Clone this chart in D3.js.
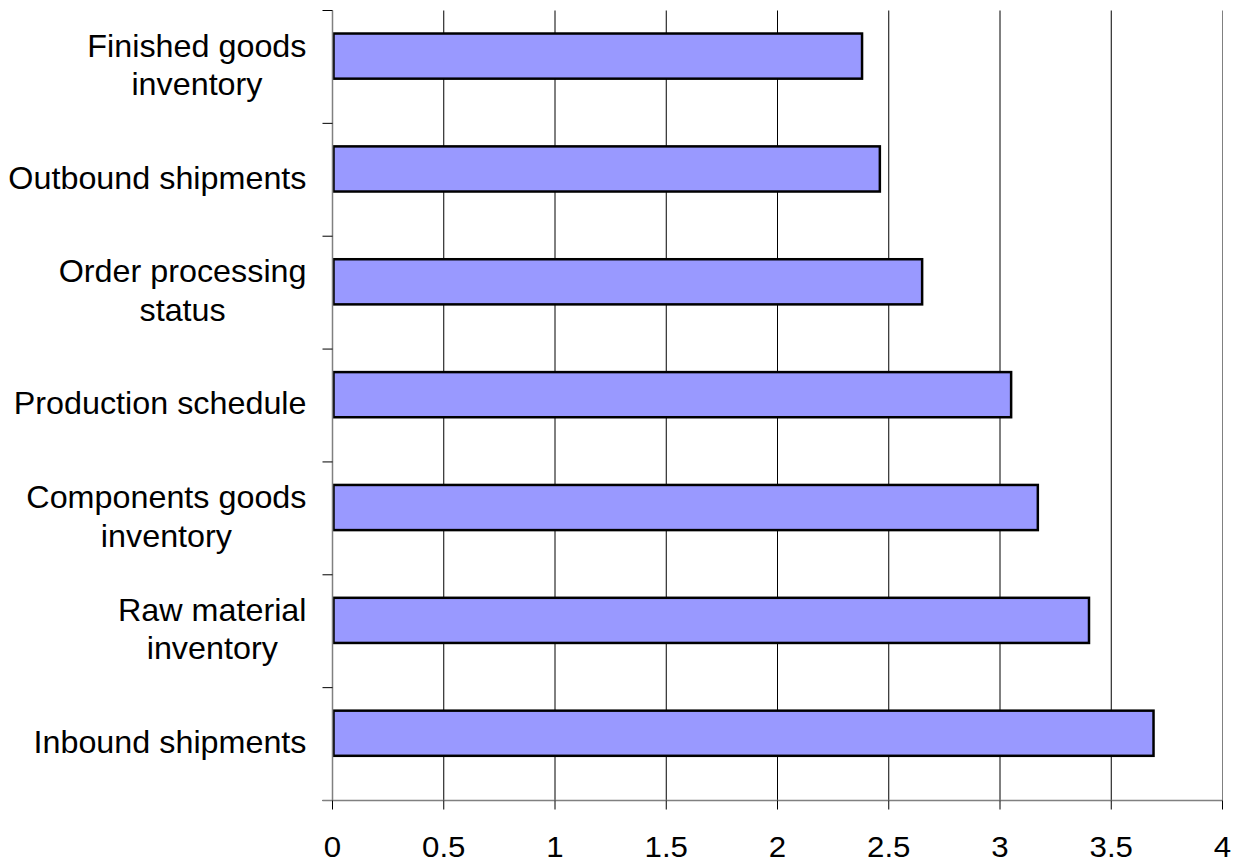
<!DOCTYPE html>
<html>
<head>
<meta charset="utf-8">
<script src="https://cdn.jsdelivr.net/npm/d3@7/dist/d3.min.js"></script>
<style>
  html, body { margin: 0; padding: 0; background: #fff; }
  svg { display: block; font-family: "Liberation Sans", Arial, sans-serif; }
</style>
</head>
<body>
<svg id="chart" width="1237" height="862"></svg>
<script>
// Category labels (top to bottom) — "\n" marks a line break
const categories = [
  "Finished goods\ninventory",
  "Outbound shipments",
  "Order processing\nstatus",
  "Production schedule",
  "Components goods\ninventory",
  "Raw material\ninventory",
  "Inbound shipments"
];
const values = [2.38, 2.46, 2.65, 3.05, 3.17, 3.40, 3.69];
const xTicks = [0, 0.5, 1, 1.5, 2, 2.5, 3, 3.5, 4];

const svg = d3.select("#chart");
const margin = { left: 332.5, right: 14.5, top: 10.5, bottom: 61.5 };
const W = 1237, H = 862;
const plotW = W - margin.left - margin.right;
const plotH = H - margin.top - margin.bottom;

const x = d3.scaleLinear().domain([0, 4]).range([0, plotW]);
const y = d3.scaleBand().domain(categories).range([0, plotH]).padding(0);

const g = svg.append("g").attr("transform", `translate(${margin.left},${margin.top})`);

// Vertical gridlines
g.selectAll("line.grid")
  .data(xTicks.filter(t => t > 0))
  .join("line")
  .attr("class", "grid")
  .attr("x1", d => x(d))
  .attr("x2", d => x(d))
  .attr("y1", 0)
  .attr("y2", plotH)
  .attr("stroke", d => d === 4 ? "#808080" : "#000")
  .attr("stroke-width", 1);

// Bars (sit slightly above the band centre)
const barTop = 0.204, barH = 0.4;
g.selectAll("rect.bar")
  .data(categories.map((c, i) => ({ c, v: values[i] })))
  .join("rect")
  .attr("class", "bar")
  .attr("x", x(0) + 1)
  .attr("y", d => y(d.c) + y.bandwidth() * barTop)
  .attr("width", d => x(d.v) - x(0) - 1)
  .attr("height", y.bandwidth() * barH)
  .attr("fill", "#9999ff")
  .attr("stroke", "#000")
  .attr("stroke-width", 2.5);

// Y axis line and ticks
g.append("line")
  .attr("x1", 0).attr("x2", 0).attr("y1", 0).attr("y2", plotH)
  .attr("stroke", "#808080").attr("stroke-width", 1.5);
const yTickPos = categories.map(c => y(c)).concat([plotH]);
g.selectAll("line.ytick")
  .data(yTickPos)
  .join("line")
  .attr("class", "ytick")
  .attr("x1", -10).attr("x2", 0)
  .attr("y1", d => d).attr("y2", d => d)
  .attr("stroke", "#000").attr("stroke-width", 1);

// X axis line and ticks
g.append("line")
  .attr("x1", -10).attr("x2", plotW).attr("y1", plotH).attr("y2", plotH)
  .attr("stroke", "#808080").attr("stroke-width", 1.5);
g.selectAll("line.xtick")
  .data(xTicks)
  .join("line")
  .attr("class", "xtick")
  .attr("x1", d => x(d)).attr("x2", d => x(d))
  .attr("y1", plotH).attr("y2", plotH + 9)
  .attr("stroke", "#000").attr("stroke-width", 1);

// Text is drawn slightly wide, as in the original rendering
const sx = 1.06;

// X tick labels
g.selectAll("text.xlab")
  .data(xTicks)
  .join("text")
  .attr("class", "xlab")
  .attr("transform", d => `translate(${x(d)},${plotH + 56}) scale(${sx},1)`)
  .attr("text-anchor", "middle")
  .attr("font-size", 29.5)
  .attr("fill", "#000")
  .text(d => d3.format("")(d));

// Category labels: block right-aligned, lines centred within the block
const fontSize = 30.5, lineGap = 38.5, labelRight = -26;
categories.forEach(c => {
  const lines = c.split("\n");
  const cy = y(c) + y.bandwidth() / 2;
  const lg = g.append("g").attr("transform", `translate(${labelRight},0) scale(${sx},1)`);
  const t = lg.append("text")
    .attr("font-size", fontSize)
    .attr("fill", "#000")
    .attr("text-anchor", "middle");
  const spans = lines.map((ln, i) =>
    t.append("tspan")
      .attr("y", cy + 9 + (i - (lines.length - 1) / 2) * lineGap)
      .text(ln));
  const maxW = d3.max(spans, s => s.node().getComputedTextLength());
  spans.forEach(s => s.attr("x", -maxW / 2));
});
</script>
</body>
</html>
